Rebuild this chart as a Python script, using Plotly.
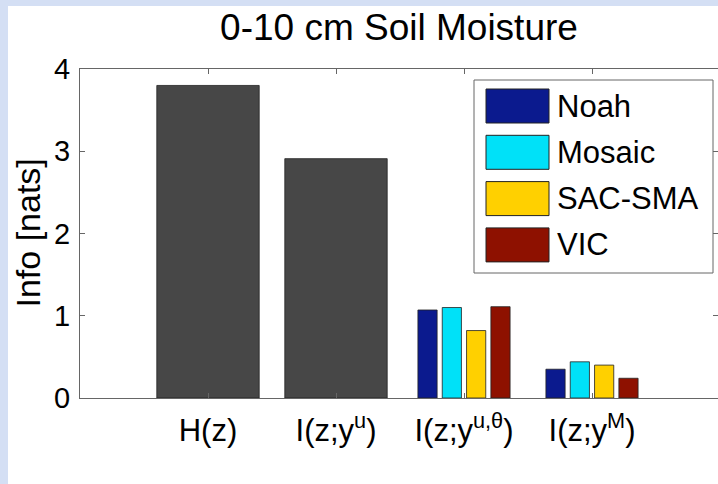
import plotly.graph_objects as go

# ---- data ----
categories = ["H(z)", "I(z;y<sup>u</sup>)", "I(z;y<sup>u,θ</sup>)", "I(z;y<sup>M</sup>)"]
cat_pos = [1, 2, 3, 4]
single_vals = [3.80, 2.91]          # H(z), I(z;y^u)
models = ["Noah", "Mosaic", "SAC-SMA", "VIC"]
noah = [1.07, 0.35]
mosaic = [1.10, 0.44]
sac_sma = [0.82, 0.40]
vic = [1.11, 0.24]
model_vals = [noah, mosaic, sac_sma, vic]
yticks = [0, 1, 2, 3, 4]

# ---- style ----
FONT = "Liberation Sans, Arial, Helvetica, sans-serif"
gray = "#474747"
colors = ["#0B1A8E", "#00E1F8", "#FFD000", "#8E1100"]
offsets = [-0.36, -0.17, 0.02, 0.21]
W, H = 718, 484
L, R, T, B = 80, 0, 69, 86
pw, ph = W - L - R, H - T - B


def px2x(px):
    return (px - L) / pw


def py2y(py):
    return (H - B - py) / ph


fig = go.Figure()
fig.add_trace(go.Bar(x=cat_pos[:2], y=single_vals, width=0.8,
                     marker=dict(color=gray, line=dict(color="#222222", width=0.8)),
                     showlegend=False))
for name, vals, col, off in zip(models, model_vals, colors, offsets):
    fig.add_trace(go.Bar(x=cat_pos[2:], y=vals, name=name, width=0.15, offset=off,
                         marker=dict(color=col, line=dict(color="#222222", width=0.8)),
                         showlegend=False))

shapes = []
annotations = []
# light blue frame strips
blue = "#D4DFF4"
shapes.append(dict(type="rect", xref="paper", yref="paper", x0=px2x(0), x1=px2x(8),
                   y0=py2y(H), y1=py2y(0), fillcolor=blue, line=dict(width=0), layer="above"))
shapes.append(dict(type="rect", xref="paper", yref="paper", x0=px2x(0), x1=px2x(W),
                   y0=py2y(6), y1=py2y(0), fillcolor=blue, line=dict(width=0), layer="above"))

# manual legend (large swatches like the reference)
shapes.append(dict(type="rect", xref="paper", yref="paper", x0=px2x(474), x1=px2x(713),
                   y0=py2y(273), y1=py2y(80), fillcolor="white",
                   line=dict(color="#666666", width=1), layer="above"))
for i, (name, col) in enumerate(zip(models, colors)):
    top = 89 + i * 46.3
    shapes.append(dict(type="rect", xref="paper", yref="paper", x0=px2x(486), x1=px2x(549),
                       y0=py2y(top + 34), y1=py2y(top), fillcolor=col,
                       line=dict(color="#222222", width=1), layer="above"))
    annotations.append(dict(xref="paper", yref="paper", x=px2x(555), y=py2y(top + 17),
                            text=name, showarrow=False, xanchor="left", yanchor="middle",
                            font=dict(family=FONT, size=31, color="black")))

# y-axis title
annotations.append(dict(xref="paper", yref="paper", x=px2x(27), y=0.5, text="Info [nats]",
                        textangle=-90, showarrow=False, xanchor="center", yanchor="middle",
                        font=dict(family=FONT, size=34, color="black")))

fig.update_layout(
    width=W, height=H,
    margin=dict(l=L, r=R, t=T, b=B, autoexpand=False),
    paper_bgcolor="white", plot_bgcolor="white",
    barmode="overlay",
    title=dict(text="0-10 cm Soil Moisture", xref="paper", x=0.5, xanchor="center",
               yref="container", y=1 - 27 / H, yanchor="middle",
               font=dict(family=FONT, size=37, color="black")),
    shapes=shapes, annotations=annotations,
    xaxis=dict(range=[0, pw / 128], tickvals=cat_pos, ticktext=categories,
               ticks="inside", ticklen=5, tickcolor="#666666", showgrid=False, zeroline=False,
               showline=True, linecolor="#666666", linewidth=1, mirror="ticks",
               tickfont=dict(family=FONT, size=31, color="black"), ticklabelstandoff=5),
    yaxis=dict(range=[0, 4], tickvals=yticks, ticks="inside", ticklen=5, tickcolor="#666666",
               showgrid=False, zeroline=False, showline=True, linecolor="#666666", linewidth=1,
               mirror="ticks", tickfont=dict(family=FONT, size=29, color="black"),
               ticklabelstandoff=3),
    font=dict(family=FONT),
)

fig.write_html("out.html")
